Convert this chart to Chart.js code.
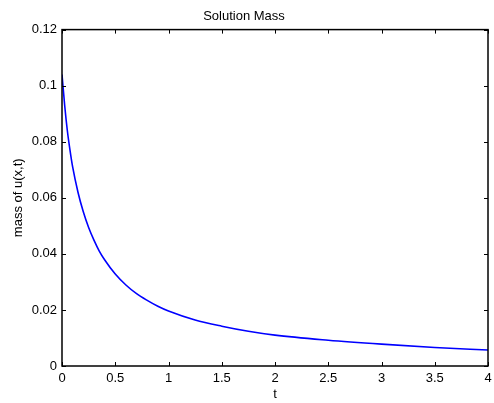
<!DOCTYPE html>
<html>
<head>
<meta charset="utf-8">
<script src="https://cdn.jsdelivr.net/npm/chart.js@4"></script>
<style>
  html, body { margin: 0; padding: 0; background: #fff; }
  #wrap { width: 494px; height: 403px; }
</style>
</head>
<body>
<div id="wrap"><canvas id="massChart" width="494" height="403"></canvas></div>
<script>
// values
const tValues = [0, 0.025, 0.05, 0.075, 0.1, 0.15, 0.2, 0.25, 0.3, 0.35, 0.4, 0.5, 0.6,
                 0.7, 0.8, 0.9, 1.0, 1.25, 1.5, 1.75, 2.0, 2.5, 3.0, 3.5, 4.0];
const massValues = [0.104, 0.093, 0.084, 0.077, 0.071, 0.062, 0.055, 0.0494, 0.0449,
                    0.0410, 0.0379, 0.0328, 0.0289, 0.0258, 0.0234, 0.0213, 0.0196,
                    0.0164, 0.0142, 0.0124, 0.0110, 0.0092, 0.0078, 0.0066, 0.0057];
const xTicks = [0, 0.5, 1, 1.5, 2, 2.5, 3, 3.5, 4];
const yTicks = [0, 0.02, 0.04, 0.06, 0.08, 0.1, 0.12];

const fontFamily = "'Liberation Sans', Arial, Helvetica, sans-serif";

// matlab style box with inward tick marks
const boxPlugin = {
    id: "boxPlugin",
    afterDraw(chart) {
        const ctx = chart.ctx;
        const a = chart.chartArea;
        const xs = chart.scales.x;
        const ys = chart.scales.y;
        ctx.save();
        ctx.strokeStyle = "#000";
        ctx.lineWidth = 1;
        xTicks.forEach(v => {
            const px = Math.round(xs.getPixelForValue(v)) + 0.5;
            ctx.beginPath();
            ctx.moveTo(px, a.bottom); ctx.lineTo(px, a.bottom - 4);
            ctx.moveTo(px, a.top); ctx.lineTo(px, a.top + 4);
            ctx.stroke();
        });
        yTicks.forEach(v => {
            const py = Math.round(ys.getPixelForValue(v)) + 0.5;
            ctx.beginPath();
            ctx.moveTo(a.left, py); ctx.lineTo(a.left + 4, py);
            ctx.moveTo(a.right, py); ctx.lineTo(a.right - 4, py);
            ctx.stroke();
        });
        ctx.lineWidth = 1.5;
        ctx.strokeRect(a.left, a.top, a.right - a.left, a.bottom - a.top);
        ctx.restore();
    }
};

new Chart(document.getElementById("massChart").getContext("2d"), {
    type: "line",
    data: {
        datasets: [{
            label: "mass",
            data: tValues.map((t, i) => ({ x: t, y: massValues[i] })),
            borderColor: "#0000ff",
            borderWidth: 1.6,
            pointRadius: 0,
            fill: false,
            cubicInterpolationMode: "monotone"
        }]
    },
    options: {
        responsive: false,
        animation: false,
        layout: { padding: { left: 0, right: 6, top: 0, bottom: 0 } },
        plugins: {
            legend: { display: false },
            tooltip: { enabled: false },
            title: {
                display: true,
                text: "Solution Mass",
                color: "#000",
                font: { family: fontFamily, size: 13, weight: "normal" },
                padding: { top: 9, bottom: 5 }
            }
        },
        scales: {
            x: {
                type: "linear",
                min: 0,
                max: 4,
                afterBuildTicks: s => { s.ticks = xTicks.map(v => ({ value: v })); },
                afterFit: s => {
                    s.height = 37;
                    s.paddingLeft = 0;
                    s.paddingRight = 0;
                },
                grid: { display: false, drawTicks: false, tickLength: 0 },
                border: { display: false },
                ticks: {
                    color: "#000",
                    padding: 5,
                    maxRotation: 0,
                    font: { family: fontFamily, size: 13 },
                    callback: v => String(v)
                },
                title: {
                    display: true,
                    text: "t",
                    color: "#000",
                    padding: { top: 0, bottom: 1 },
                    font: { family: fontFamily, size: 13 }
                }
            },
            y: {
                min: 0,
                max: 0.12,
                afterBuildTicks: s => { s.ticks = yTicks.map(v => ({ value: v })); },
                afterFit: s => { s.width = 62; },
                grid: { display: false, drawTicks: false, tickLength: 0 },
                border: { display: false },
                ticks: {
                    color: "#000",
                    padding: 5,
                    font: { family: fontFamily, size: 13 },
                    callback: v => String(Math.round(v * 100) / 100)
                },
                title: {
                    display: true,
                    text: "mass of u(x,t)",
                    color: "#000",
                    padding: { top: 11, bottom: 0 },
                    font: { family: fontFamily, size: 13 }
                }
            }
        }
    },
    plugins: [boxPlugin]
});
</script>
</body>
</html>
